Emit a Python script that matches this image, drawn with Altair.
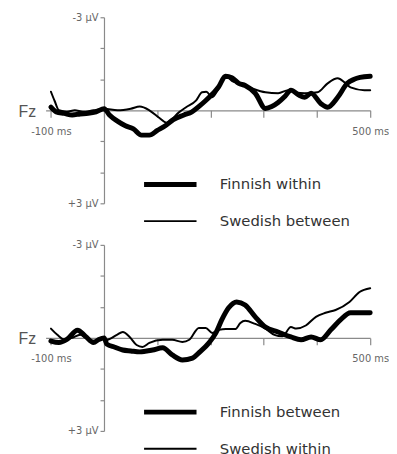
import altair as alt
import pandas as pd

# ---------------- data ----------------
# upper panel
top_labels = ["Finnish within", "Swedish between"]
top_thick_t = [-100, -90, -75, -60, -45, -30, -15, 0, 10, 25, 40, 55, 70, 85, 100, 115, 130, 150, 165, 180, 190,
               205, 215, 228, 240, 253, 265, 284, 303, 315, 327, 340, 351, 365, 377, 389, 407, 420, 439, 457, 470,
               481, 500]
top_thick_v = [-0.1, 0.05, 0.1, 0.15, 0.12, 0.1, 0.05, -0.05, 0.15, 0.35, 0.5, 0.6, 0.8, 0.8, 0.65, 0.5, 0.3, 0.15,
               0.05, -0.15, -0.3, -0.55, -0.75, -1.1, -1.05, -0.87, -0.8, -0.55, -0.06, -0.12, -0.25, -0.45, -0.65,
               -0.5, -0.42, -0.55, -0.22, -0.1, -0.42, -0.87, -1.0, -1.06, -1.1]
top_thin_t = [-100, -93, -85, -70, -55, -40, -20, 0, 25, 50, 67, 85, 104, 117, 141, 154, 173, 184, 192, 203, 215,
              229, 240, 253, 277, 303, 327, 346, 359, 377, 401, 420, 439, 452, 463, 489, 500]
top_thin_v = [-0.6, -0.3, 0.0, 0.05, 0.0, 0.05, 0.0, -0.05, 0.0, -0.05, -0.12, 0.0, 0.25, 0.4, 0.06, -0.1, -0.32,
              -0.58, -0.6, -0.42, -0.7, -1.1, -0.95, -0.87, -0.71, -0.58, -0.55, -0.65, -0.58, -0.55, -0.58, -0.87,
              -1.03, -0.9, -0.74, -0.65, -0.65]

# lower panel
bot_labels = ["Finnish between", "Swedish within"]
bot_thick_t = [-100, -85, -70, -50, -35, -20, -10, 0, 5, 20, 35, 50, 67, 91, 110, 128, 147, 166, 180, 197, 210,
               221, 234, 249, 265, 284, 303, 327, 351, 370, 389, 407, 426, 444, 463, 481, 500]
bot_thick_v = [0.1, 0.15, 0.05, -0.25, -0.05, 0.15, 0.05, 0.0, 0.2, 0.3, 0.39, 0.42, 0.45, 0.39, 0.32, 0.55, 0.71,
               0.65, 0.45, 0.16, -0.16, -0.58, -0.97, -1.16, -1.06, -0.68, -0.35, -0.19, -0.03, 0.06, -0.03, 0.06,
               -0.26, -0.58, -0.81, -0.81, -0.81]
bot_thin_t = [-100, -88, -75, -60, -45, -30, -15, 0, 5, 24, 35, 48, 61, 72, 85, 110, 128, 147, 160, 178, 191, 203,
              216, 229, 247, 256, 265, 284, 303, 320, 335, 351, 361, 379, 398, 416, 435, 461, 480, 500]
bot_thin_v = [-0.3, -0.1, 0.05, 0.0, -0.1, 0.05, 0.1, 0.0, 0.06, -0.1, -0.19, -0.03, 0.23, 0.29, 0.16, 0.06, 0.06,
              0.13, 0.06, -0.32, -0.32, -0.16, -0.26, -0.29, -0.29, -0.48, -0.55, -0.45, -0.3, -0.1, -0.05, -0.35,
              -0.3, -0.4, -0.68, -0.81, -0.9, -1.16, -1.48, -1.6]

x_ticks = [-100, 0, 100, 200, 300, 400, 500]
y_ticks = [-3, -2, -1, 0, 1, 2, 3]

FONT = "DejaVu Sans"
AXIS_GRAY = "#8a8a8a"
TEXT_GRAY = "#666666"


def frame(labels, thick_t, thick_v, thin_t, thin_v):
    rows = []
    for t, v in zip(thick_t, thick_v):
        rows.append({"t": t, "v": v, "series": labels[0]})
    for t, v in zip(thin_t, thin_v):
        rows.append({"t": t, "v": v, "series": labels[1]})
    return pd.DataFrame(rows)


def panel(labels, df):
    return alt.Chart(df).mark_line(
        color="black", strokeJoin="round", strokeCap="round", interpolate="monotone"
    ).encode(
        x=alt.X("t:Q",
                scale=alt.Scale(domain=[-110, 500], nice=False, zero=False),
                axis=alt.Axis(values=x_ticks,
                              labelExpr="datum.value == -100 ? '-100 ms' : (datum.value == 500 ? '500 ms' : '')",
                              offset=-94, grid=False, title=None,
                              domainColor=AXIS_GRAY, tickColor=AXIS_GRAY, domainWidth=1.2, tickWidth=1.2,
                              tickSize=7, labelFont=FONT, labelFontSize=10, labelColor=TEXT_GRAY,
                              labelPadding=9, labelFlush=False, labelOverlap=False)),
        y=alt.Y("v:Q",
                scale=alt.Scale(domain=[-3, 3], reverse=True, nice=False, zero=False),
                axis=alt.Axis(values=y_ticks,
                              labelExpr="datum.value == -3 ? '-3 µV' : (datum.value == 3 ? '+3 µV' : '')",
                              offset=-59, grid=False,
                              domainColor=AXIS_GRAY, tickColor=AXIS_GRAY, domainWidth=1.2, tickWidth=1.2,
                              tickSize=4, labelFont=FONT, labelFontSize=10, labelColor=TEXT_GRAY,
                              labelPadding=2, labelFlush=False, labelOverlap=False,
                              title="Fz", titleAngle=0, titleX=-69, titleY=95, titleAlign="right",
                              titleBaseline="middle", titleFont="Liberation Sans", titleFontSize=16,
                              titleFontWeight="normal", titleColor="#555555")),
        strokeWidth=alt.StrokeWidth("series:N",
                                    scale=alt.Scale(domain=labels, range=[5, 2]),
                                    legend=alt.Legend(orient="none", legendX=97, legendY=163, title=None,
                                                      symbolType="stroke", symbolSize=2809,
                                                      symbolStrokeColor="black", labelFont=FONT,
                                                      labelFontSize=15, labelColor="#333333",
                                                      labelOffset=21, rowPadding=22, clipHeight=12,
                                                      padding=0)),
    ).properties(width=328, height=188)


top = panel(top_labels, frame(top_labels, top_thick_t, top_thick_v, top_thin_t, top_thin_v))
bottom = panel(bot_labels, frame(bot_labels, bot_thick_t, bot_thick_v, bot_thin_t, bot_thin_v))

chart = alt.vconcat(top, bottom, spacing=11).resolve_scale(
    strokeWidth="independent"
).resolve_legend(
    strokeWidth="independent"
).properties(
    padding={"left": 10, "top": 2, "right": 0, "bottom": 0}
).configure_view(stroke=None)

chart.save("out.html", embed_options={"renderer": "svg", "actions": False})
